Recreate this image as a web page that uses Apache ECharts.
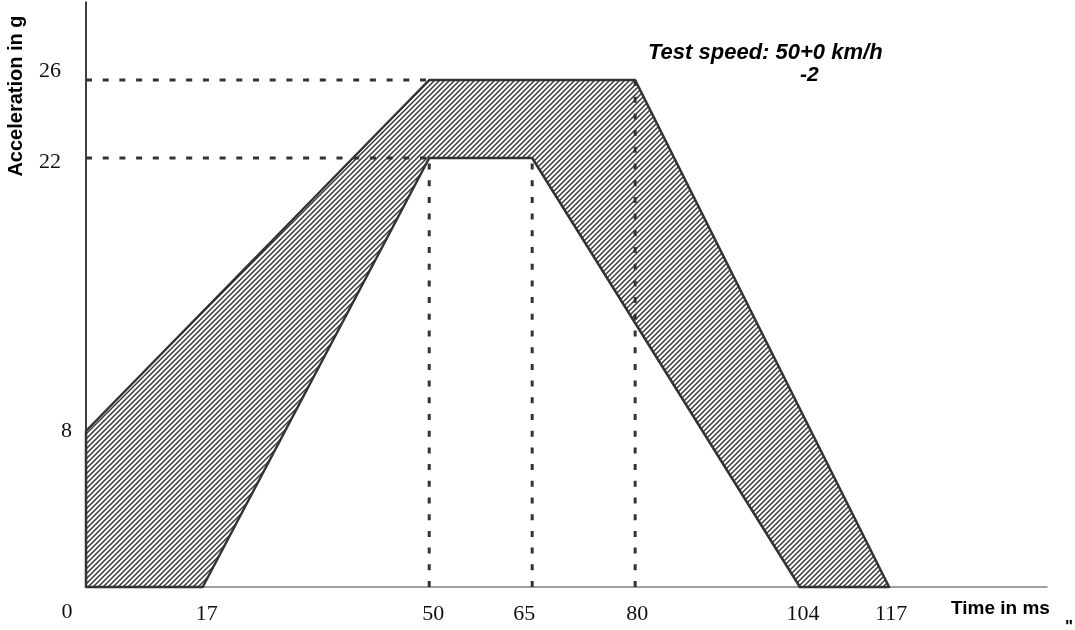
<!DOCTYPE html>
<html>
<head>
<meta charset="utf-8">
<script src="https://cdn.jsdelivr.net/npm/echarts@6/dist/echarts.min.js"></script>
<style>html,body{margin:0;padding:0;background:#fff}#c{width:1075px;height:630px}</style>
</head>
<body>
<div id="c"></div>
<script>
// Corridor boundaries (time in ms, acceleration in g)
var upperX = [0, 50, 80, 117];
var upperY = [8, 26, 26, 0];
var lowerX = [17, 50, 65, 104];
var lowerY = [0, 22, 22, 0];
// Tick labels
var xTicks = [17, 50, 65, 80, 104, 117];
var yTicks = [8, 22, 26];
// Dashed guide lines: [x1, y1, x2, y2]
var guides = [
  [0, 26, 50, 26],
  [0, 22, 50, 22],
  [50, 0, 50, 22],
  [65, 0, 65, 22],
  [80, 0, 80, 26]
];

// polygon: (0,0) -> upper boundary -> lower boundary reversed
var poly = [[0, 0]];
for (var i = 0; i < upperX.length; i++) poly.push([upperX[i], upperY[i]]);
for (var j = lowerX.length - 1; j >= 0; j--) poly.push([lowerX[j], lowerY[j]]);

// hatch pattern
var pc = document.createElement('canvas');
pc.width = 5; pc.height = 5;
var g = pc.getContext('2d');
g.fillStyle = '#ffffff'; g.fillRect(0, 0, 5, 5);
g.strokeStyle = '#3a3a3a'; g.lineWidth = 1.5;
g.beginPath();
g.moveTo(-1, 6); g.lineTo(6, -1);
g.moveTo(-1, 1); g.lineTo(1, -1);
g.moveTo(4, 6); g.lineTo(6, 4);
g.stroke();

var chart = echarts.init(document.getElementById('c'));
var series = [{
  type: 'custom',
  coordinateSystem: 'cartesian2d',
  data: [0],
  z: 2,
  renderItem: function (params, api) {
    var pts = poly.map(function (p) { return api.coord(p); });
    return {
      type: 'polygon',
      shape: { points: pts },
      style: { fill: { image: pc, repeat: 'repeat' }, stroke: '#333333', lineWidth: 2.5, lineJoin: 'round' }
    };
  }
}];
guides.forEach(function (gd) {
  series.push({
    type: 'line',
    data: [[gd[0], gd[1]], [gd[2], gd[3]]],
    symbol: 'none',
    z: 3,
    silent: true,
    lineStyle: { color: '#333333', width: 3, type: [6, 10.7] }
  });
});

var serif = 'Liberation Serif';
function lbl(pad) { return { fontFamily: serif, fontSize: 22, color: '#111', padding: pad }; }
chart.setOption({
  animation: false,
  grid: { left: 86, right: 28, top: 2, bottom: 43, containLabel: false },
  xAxis: {
    type: 'value', min: 0, max: 140,
    axisLine: { show: true, onZero: false, lineStyle: { color: '#808080', width: 1.5 } },
    axisTick: { show: false },
    splitLine: { show: false },
    axisLabel: {
      customValues: xTicks, margin: 16,
      fontFamily: serif, fontSize: 22, color: '#111',
      formatter: function (v) {
        var k = v === 65 ? 'l' : ((v === 17 || v === 50) ? 'r4' : (v === 104 ? 'r3' : 'r2'));
        return '{' + k + '|' + v + '}';
      },
      rich: { l: lbl([0, 16, 0, 0]), r4: lbl([0, 0, 0, 8]), r3: lbl([0, 0, 0, 6]), r2: lbl([0, 0, 0, 4]) }
    }
  },
  yAxis: {
    type: 'value', min: 0, max: 30,
    axisLine: { show: true, onZero: false, lineStyle: { color: '#000', width: 1.5 } },
    axisTick: { show: false },
    splitLine: { show: false },
    axisLabel: {
      customValues: yTicks, margin: 14,
      fontFamily: serif, fontSize: 22, color: '#111',
      formatter: function (v) { return v === 26 ? '{t|' + v + '}' : (v === 22 ? '{m|' + v + '}' : '{s|' + v + '}'); },
      rich: { t: lbl([0, 11, 18, 0]), m: lbl([8, 11, 0, 0]), s: lbl([0, 0, 0, 0]) }
    }
  },
  graphic: [
    { type: 'text', x: 67, y: 612, style: { text: '0', font: '22px "Liberation Serif"', fill: '#111', align: 'center', verticalAlign: 'middle' } },
    { type: 'text', x: 16, y: 96, rotation: Math.PI / 2, style: { text: 'Acceleration in g', font: 'bold 20px "Liberation Sans"', fill: '#000', align: 'center', verticalAlign: 'middle' } },
    { type: 'text', x: 951, y: 609, style: { text: 'Time in ms', font: 'bold 19px "Liberation Sans"', fill: '#000', align: 'left', verticalAlign: 'middle' } },
    { type: 'text', x: 1065, y: 619, style: { text: '"', font: 'bold 17px "Liberation Sans"', fill: '#000', align: 'left', verticalAlign: 'top' } },
    { type: 'text', x: 648, y: 64, style: { text: 'Test speed: 50+0 km/h', font: 'italic bold 22px "Liberation Sans"', fill: '#000', align: 'left', verticalAlign: 'bottom' } },
    { type: 'text', x: 800, y: 86, style: { text: '-2', font: 'italic bold 21px "Liberation Sans"', fill: '#000', align: 'left', verticalAlign: 'bottom' } }
  ],
  series: series
});
</script>
</body>
</html>
